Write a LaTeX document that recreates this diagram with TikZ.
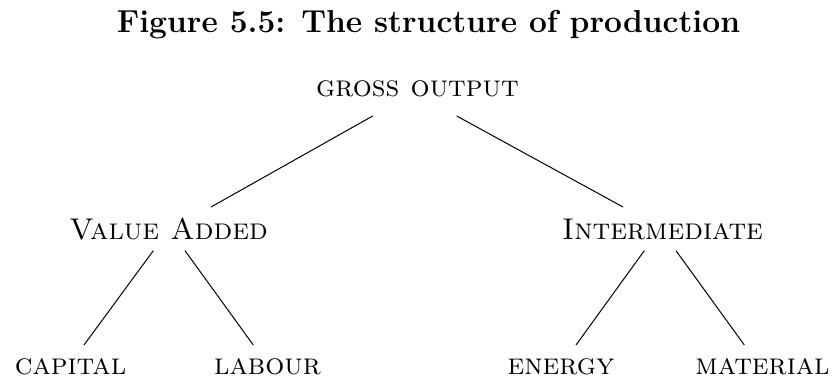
\documentclass[tikz,border=0pt]{standalone}
\begin{document}
\begin{tikzpicture}[x=0.4pt,y=-0.4pt,
  lbl/.style={inner sep=0pt,anchor=base,font=\large\scshape},
  ttl/.style={inner sep=0pt,anchor=base,font=\fontsize{12.7}{15}\selectfont\bfseries},
  con/.style={line width=0.4pt}]
\useasboundingbox (0,0) rectangle (837,378);
\node[ttl] (title) at (428.5,33) {Figure 5.5: The structure of production};
\node[lbl] (go) at (417.5,97) {gross output};
\node[lbl] (va) at (168.5,240) {Value Added};
\node[lbl] (im) at (662.5,240) {Intermediate};
\node[lbl] (ca) at (70.5,374) {capital};
\node[lbl] (la) at (267.5,374) {labour};
\node[lbl] (en) at (561,374) {energy};
\node[lbl] (ma) at (762.5,374) {material};
\draw[con] ([shift={(-44.8,19)}]go.base) -- ([shift={(42.5,-33)}]va.base);
\draw[con] ([shift={(39.2,19)}]go.base) -- ([shift={(-39.5,-33)}]im.base);
\draw[con] ([shift={(-15.2,10.7)}]va.base) -- ([shift={(13.5,-29)}]ca.base);
\draw[con] ([shift={(16.5,10.7)}]va.base) -- ([shift={(-14.2,-29)}]la.base);
\draw[con] ([shift={(-18.2,10.7)}]im.base) -- ([shift={(15,-29)}]en.base);
\draw[con] ([shift={(13.5,10.7)}]im.base) -- ([shift={(-18.2,-29)}]ma.base);
\end{tikzpicture}
\end{document}
